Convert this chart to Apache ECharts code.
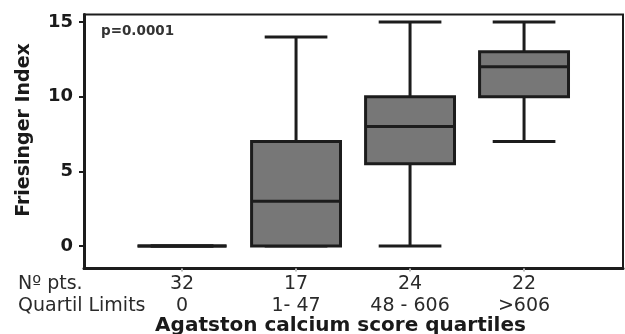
<!DOCTYPE html>
<html>
<head>
<meta charset="utf-8">
<script src="https://cdn.jsdelivr.net/npm/echarts@6/dist/echarts.min.js"></script>
<style>html,body{margin:0;padding:0;background:#fff}#c{width:625px;height:334px}</style>
</head>
<body>
<div id="c"></div>
<script>
// ---- data ----
const positions = [1, 2, 3, 4];
const nPts = ['32', '17', '24', '22'];
const quartilLimits = ['0', '1- 47', '48 - 606', '>606'];
// [min, Q1, median, Q3, max]
const boxStats = [
  [0, 0, 0, 0, 0],
  [0, 0, 3, 7, 14],
  [0, 5.5, 8, 10, 15],
  [7, 10, 12, 13, 15]
];
const yTicks = [0, 5, 10, 15];
const pValueText = 'p=0.0001';
const yTitle = 'Friesinger Index';
const xTitle = 'Agatston calcium score quartiles';
const rowHeaders = ['Nº pts.', 'Quartil Limits'];

const seriesData = boxStats.map((s, i) => [positions[i]].concat(s));

const BOX_W = 0.78, CAP_W = 0.55;
const INK = '#1c1c1c';
const FONT = 'DejaVu Sans';

const chart = echarts.init(document.getElementById('c'));
chart.setOption({
  animation: false,
  backgroundColor: '#fff',
  title: {
    text: pValueText,
    left: 96, top: 19,
    textStyle: { fontFamily: FONT, fontSize: 13.5, fontWeight: 'bold', color: '#333' }
  },
  grid: {
    left: 84, right: 2, top: 14.5, bottom: 65.5,
    outerBoundsMode: 'none', containLabel: false,
    show: true, borderColor: INK, borderWidth: 2, backgroundColor: 'transparent'
  },
  xAxis: {
    type: 'value', min: 0.14, max: 4.868,
    splitLine: { show: false },
    axisLine: { show: true, onZero: false, lineStyle: { color: INK, width: 3 } },
    axisTick: { show: true, customValues: positions, length: 3, lineStyle: { color: '#bbb', width: 2 } },
    axisLabel: {
      customValues: positions,
      margin: 5,
      fontFamily: FONT, fontSize: 19, color: '#2a2a2a', lineHeight: 22,
      formatter: v => {
        const i = positions.indexOf(v);
        return i < 0 ? '' : nPts[i] + '\n' + quartilLimits[i];
      }
    },
    name: xTitle, nameLocation: 'middle', nameGap: 47, nameMoveOverlap: false,
    nameTextStyle: { fontFamily: FONT, fontSize: 20, fontWeight: 'bold', color: '#1a1a1a', padding: [0, 26, 0, 0] }
  },
  yAxis: {
    type: 'value', min: -1.51, max: 15.5,
    splitLine: { show: false },
    axisLine: { show: true, onZero: false, lineStyle: { color: INK, width: 3 } },
    axisTick: { show: true, customValues: yTicks, length: 5, lineStyle: { color: INK, width: 2 } },
    axisLabel: {
      customValues: yTicks, margin: 11,
      fontFamily: FONT, fontSize: 18, fontWeight: 'bold', color: '#1a1a1a'
    },
    name: yTitle, nameLocation: 'middle', nameGap: 50, nameRotate: 90, nameMoveOverlap: false,
    nameTextStyle: { fontFamily: FONT, fontSize: 19, fontWeight: 'bold', color: '#1a1a1a', padding: [0, 0, 0, 23] }
  },
  graphic: [{
    type: 'text', left: 18, top: 273,
    style: {
      text: rowHeaders.join('\n'),
      font: '19px "DejaVu Sans"', lineHeight: 22, fill: '#2a2a2a'
    }
  }],
  series: [{
    type: 'custom',
    data: seriesData,
    encode: { x: 0, y: [1, 2, 3, 4, 5] },
    renderItem: (params, api) => {
      const x = api.value(0);
      const lo = api.coord([x, api.value(1)]);
      const q1 = api.coord([x, api.value(2)]);
      const md = api.coord([x, api.value(3)]);
      const q3 = api.coord([x, api.value(4)]);
      const hi = api.coord([x, api.value(5)]);
      const bw = api.size([BOX_W, 0])[0];
      const cw = api.size([CAP_W, 0])[0];
      const ls = { stroke: INK, lineWidth: 3, fill: null };
      const cx = lo[0];
      return {
        type: 'group',
        children: [
          { type: 'line', shape: { x1: cx, y1: hi[1], x2: cx, y2: q3[1] }, style: ls },
          { type: 'line', shape: { x1: cx, y1: lo[1], x2: cx, y2: q1[1] }, style: ls },
          { type: 'line', shape: { x1: cx - cw / 2, y1: hi[1], x2: cx + cw / 2, y2: hi[1] }, style: ls },
          { type: 'line', shape: { x1: cx - cw / 2, y1: lo[1], x2: cx + cw / 2, y2: lo[1] }, style: ls },
          { type: 'rect', shape: { x: cx - bw / 2, y: q3[1], width: bw, height: q1[1] - q3[1] },
            style: { fill: '#777777', stroke: INK, lineWidth: 3 } },
          { type: 'line', shape: { x1: cx - bw / 2, y1: md[1], x2: cx + bw / 2, y2: md[1] }, style: ls }
        ]
      };
    }
  }]
});
</script>
</body>
</html>
